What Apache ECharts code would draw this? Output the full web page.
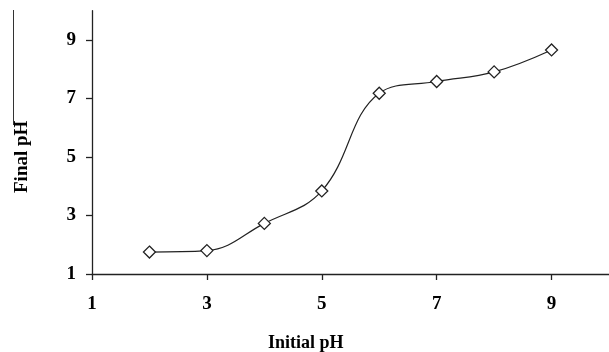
<!DOCTYPE html>
<html>
<head>
<meta charset="utf-8">
<script src="https://cdn.jsdelivr.net/npm/echarts@6/dist/echarts.min.js"></script>
<style>
html,body{margin:0;padding:0;background:#fff;}
#chart{width:609px;height:352px;}
</style>
</head>
<body>
<div id="chart"></div>
<script>
const initialPH = [2, 3, 4, 5, 6, 7, 8, 9];
const finalPH = [1.75, 1.80, 2.73, 3.84, 7.18, 7.58, 7.91, 8.66];
const xTicks = [1, 3, 5, 7, 9];
const yTicks = [1, 3, 5, 7, 9];
const xTitle = 'Initial pH';
const yTitle = 'Final pH';

const font = '"Liberation Serif", "Times New Roman", serif';
const chart = echarts.init(document.getElementById('chart'), null, {renderer: 'canvas'});
const labelStyle = {fontFamily: font, fontWeight: 'bold', fontSize: 19, color: '#000'};

chart.setOption({
  animation: false,
  backgroundColor: '#fff',
  grid: {left: 92, right: -8, top: 10.75, bottom: 78, containLabel: false},
  xAxis: {
    type: 'value', min: 1, max: 10, interval: 2,
    axisLine: {show: true, onZero: false, lineStyle: {color: '#222', width: 1.3}},
    axisTick: {show: true, length: 6, lineStyle: {color: '#222', width: 1.3}},
    splitLine: {show: false},
    axisLabel: Object.assign({margin: 21, showMaxLabel: false,
      formatter: v => xTicks.includes(v) ? String(v) : ''}, labelStyle)
  },
  yAxis: {
    type: 'value', min: 1, max: 10, interval: 2,
    axisLine: {show: true, onZero: false, lineStyle: {color: '#222', width: 1.3}},
    axisTick: {show: true, length: 6, lineStyle: {color: '#222', width: 1.3}},
    splitLine: {show: false},
    axisLabel: Object.assign({margin: 16, showMaxLabel: false,
      formatter: v => yTicks.includes(v) ? String(v) : ''}, labelStyle)
  },
  graphic: [
    {type: 'text', left: 268, top: 334,
      style: {text: xTitle, font: 'bold 18px ' + font, fill: '#000'}},
    {type: 'text', x: 13, y: 193, rotation: Math.PI / 2,
      style: {text: yTitle, font: 'bold 19px ' + font, fill: '#000'}},
    {type: 'line', shape: {x1: 13.5, y1: 10, x2: 13.5, y2: 125},
      style: {stroke: '#333', lineWidth: 1}}
  ],
  series: [{
    type: 'line',
    data: initialPH.map((x, i) => [x, finalPH[i]]),
    smooth: 0.4,
    symbol: 'diamond',
    symbolSize: 12,
    lineStyle: {color: '#222', width: 1.2},
    itemStyle: {color: '#fff', borderColor: '#222', borderWidth: 1.3}
  }]
});
</script>
</body>
</html>
